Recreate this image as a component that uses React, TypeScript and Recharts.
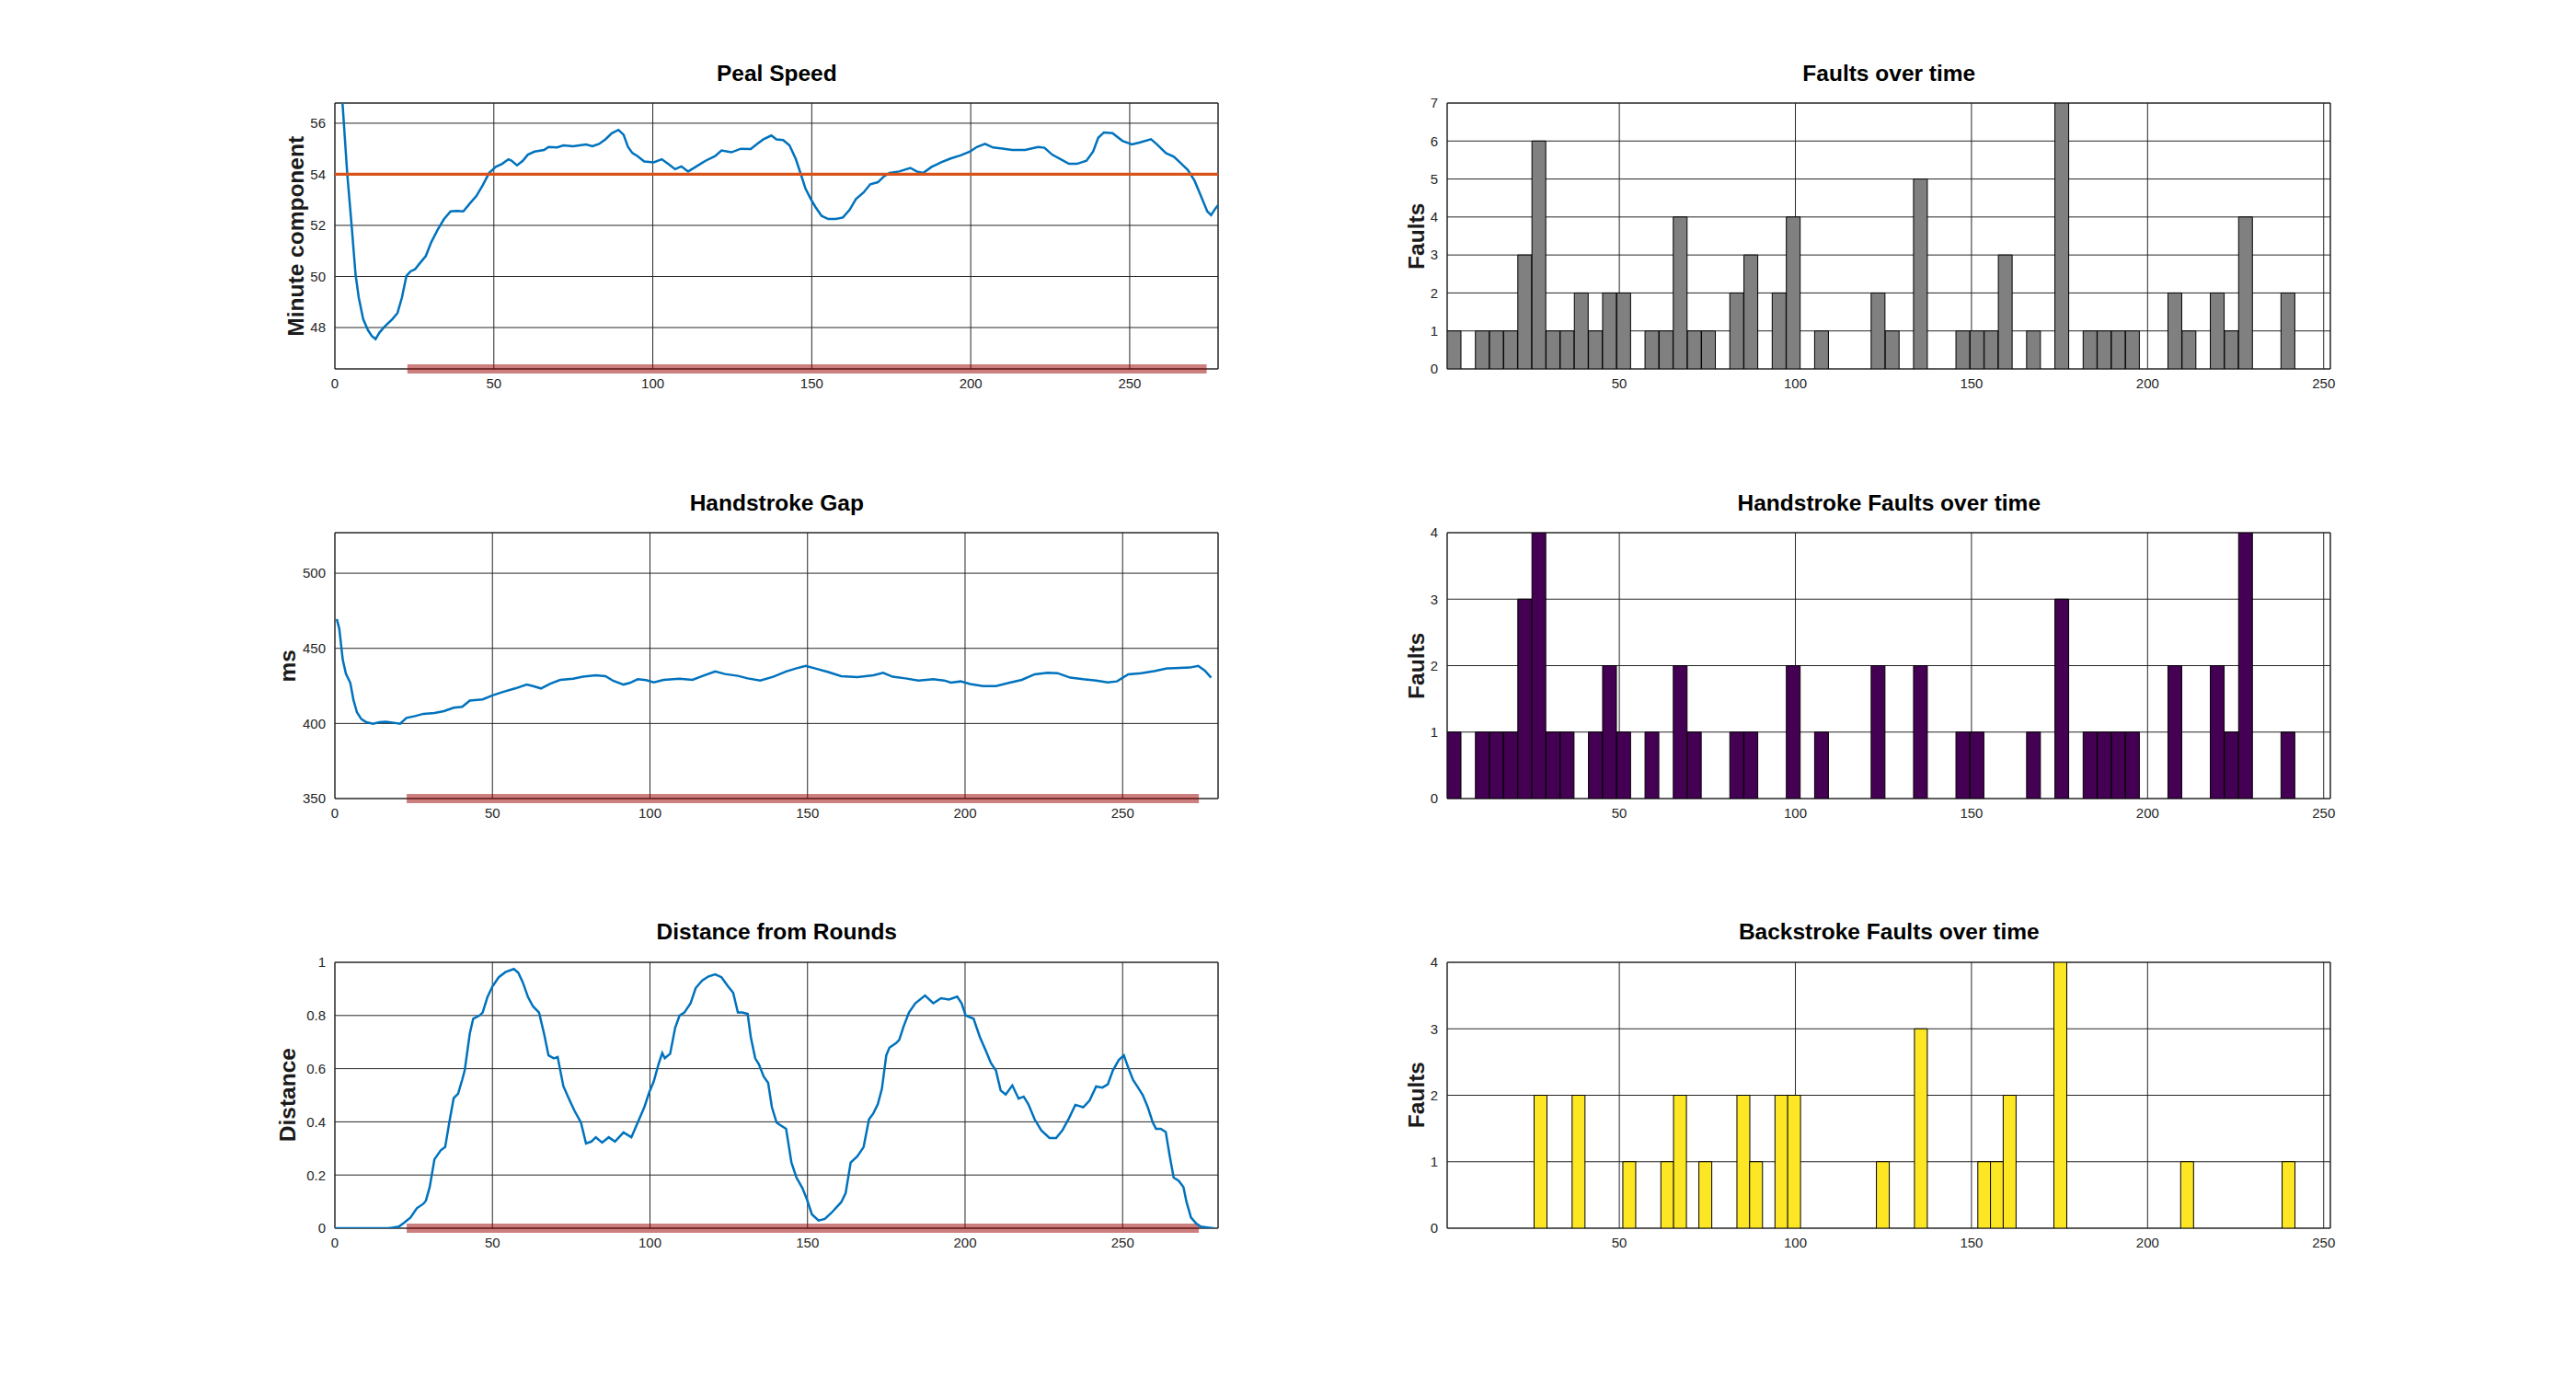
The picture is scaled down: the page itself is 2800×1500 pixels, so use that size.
import React from 'react';
import {
  ComposedChart,
  Line,
  Bar,
  XAxis,
  YAxis,
  CartesianGrid,
  ReferenceLine,
  ReferenceArea,
} from 'recharts';

// ---------- data ----------
const LEFT_X_TICKS = [0, 50, 100, 150, 200, 250];
const RIGHT_X_TICKS = [50, 100, 150, 200, 250];

const PEAL_Y_TICKS = [48, 50, 52, 54, 56];
const GAP_Y_TICKS = [350, 400, 450, 500];
const DIST_Y_TICKS = [0, 0.2, 0.4, 0.6, 0.8, 1];
const FAULT_Y_TICKS = [0, 1, 2, 3, 4, 5, 6, 7];
const HAND_Y_TICKS = [0, 1, 2, 3, 4];
const BACK_Y_TICKS = [0, 1, 2, 3, 4];

const PEAL_TARGET = 54;
const TOUCH_RANGE = [22.8, 274.2];

// [change, value]
const PEAL_SPEED: [number, number][] = [
  [2.4, 56.79], [3.9, 54.0], [5.3, 51.95], [6.5, 50.08], [7.5, 49.18], [8.9, 48.33], [10.4, 47.9],
  [11.6, 47.67], [12.8, 47.55], [14, 47.8], [15.6, 48.03], [18.1, 48.33], [19.7, 48.57], [21.1, 49.18],
  [22.5, 50.02], [23.8, 50.2], [25.2, 50.28], [26.6, 50.5], [28.6, 50.8], [30.3, 51.34], [32.3, 51.82],
  [34.3, 52.24], [36.4, 52.55], [38.4, 52.57], [40.4, 52.55], [42.4, 52.85], [44.5, 53.15], [46.5, 53.57],
  [48.5, 54.05], [50.6, 54.29], [52.6, 54.41], [54.6, 54.59], [55.6, 54.53], [57.3, 54.35], [59.1, 54.53],
  [60.7, 54.77], [62.8, 54.89], [65.8, 54.95], [67.2, 55.07], [69.9, 55.05], [71.9, 55.13], [74.9, 55.1],
  [79, 55.17], [81, 55.1], [83.1, 55.19], [85.1, 55.37], [87.1, 55.61], [89.2, 55.74], [90.8, 55.55],
  [92.2, 55.07], [93.6, 54.83], [95.2, 54.71], [97.3, 54.5], [100.3, 54.47], [102.8, 54.59], [104.8, 54.41],
  [107, 54.2], [109, 54.31], [111.1, 54.11], [113.5, 54.29], [116.6, 54.53], [119.6, 54.71], [121.6, 54.93],
  [124.7, 54.86], [127.7, 55.0], [130.8, 54.99], [132.8, 55.19], [134.8, 55.37], [137.3, 55.52], [138.9, 55.37],
  [141, 55.34], [143, 55.13], [145, 54.59], [146.6, 53.99], [148, 53.45], [149.7, 53.03], [151.1, 52.73],
  [153.1, 52.37], [155.2, 52.25], [157.6, 52.25], [159.8, 52.31], [161.9, 52.61], [163.9, 53.03], [166.3, 53.29],
  [168.4, 53.61], [170.8, 53.69], [172.8, 53.93], [174.5, 54.05], [177.5, 54.11], [181, 54.25], [183, 54.11],
  [185, 54.05], [187.7, 54.29], [190.7, 54.47], [193.7, 54.62], [196.8, 54.74], [199.8, 54.89], [201.9, 55.07],
  [204.5, 55.19], [207, 55.05], [210, 55.01], [213, 54.95], [217.1, 54.95], [221.2, 55.07], [223.2, 55.04],
  [225.6, 54.77], [228.3, 54.59], [230.9, 54.41], [233.4, 54.41], [236.4, 54.53], [238.5, 54.89], [240.1, 55.43],
  [241.9, 55.64], [244.6, 55.61], [247.7, 55.31], [250.7, 55.17], [253.3, 55.25], [256.7, 55.37], [258.4, 55.19],
  [261.4, 54.83], [263.9, 54.69], [266.3, 54.41], [268.3, 54.17], [270.4, 53.75], [272.4, 53.15], [274.4, 52.55],
  [275.6, 52.4], [277, 52.67], [277.8, 52.79],
];

const HANDSTROKE_GAP: [number, number][] = [
  [0.6, 469.5], [1.4, 463], [2.5, 442.4], [3.5, 433.1], [4.9, 427], [5.9, 415.6], [7, 407.4], [8.4, 402.9],
  [10, 400.8], [12.1, 399.8], [14.1, 400.8], [16.2, 401.2], [18.2, 400.6], [20.7, 399.8], [22.7, 403.7],
  [25.4, 404.9], [28.1, 406.4], [31.6, 407], [34.6, 408.2], [37.7, 410.5], [40.4, 411.1], [42.8, 415.2],
  [46.9, 416], [50, 418.7], [53.1, 420.8], [57.2, 423.3], [60.9, 425.9], [62.9, 424.9], [65.4, 423.3],
  [68.4, 426.5], [71.5, 429], [75.6, 429.8], [78.7, 431.1], [82.8, 432.1], [85.9, 431.5], [88.3, 428.4],
  [91.6, 425.9], [93.6, 427], [96.1, 429.4], [98.8, 428.8], [101.2, 427.4], [104.3, 429], [109.4, 429.8],
  [113.5, 429], [116.6, 431.5], [120.7, 434.6], [123.8, 432.9], [127.9, 431.7], [131, 430], [135, 428.6],
  [139.1, 431.1], [143.2, 434.6], [146.3, 436.6], [149.4, 438.3], [152.5, 436.6], [156.6, 434.2], [160.7, 431.5],
  [165.8, 430.9], [170.9, 432.1], [174, 433.7], [177, 431.1], [181.1, 430], [185.2, 428.6], [190, 429.4],
  [193.4, 428.6], [195.5, 427.2], [198.6, 428], [201.6, 426.3], [205.7, 424.9], [209.8, 424.9], [213.9, 427],
  [218, 429], [222.1, 432.7], [226.2, 433.7], [229.3, 433.5], [233.4, 430.5], [237.5, 429.4], [241.6, 428.6],
  [245.3, 427.4], [248.2, 428], [251.8, 432.7], [255.9, 433.5], [260, 434.8], [264.1, 436.6], [268.2, 437],
  [271.3, 437.2], [274, 438.3], [276.1, 435.2], [278.1, 430.5],
];

const DISTANCE: [number, number][] = [
  [0, 0], [17, 0], [18.2, 0.002], [20.3, 0.006], [21.9, 0.02], [24, 0.04], [26, 0.075], [28.1, 0.092],
  [28.9, 0.104], [30.1, 0.155], [31.6, 0.259], [33.6, 0.293], [35, 0.305], [36.3, 0.397], [37.7, 0.489],
  [39.1, 0.506], [40.4, 0.558], [41.2, 0.593], [42.8, 0.731], [43.9, 0.788], [45.9, 0.8], [46.9, 0.811],
  [48.4, 0.869], [50, 0.909], [52, 0.944], [54.1, 0.963], [56.8, 0.975], [58.2, 0.961], [59.6, 0.926],
  [61.3, 0.869], [62.9, 0.834], [64.8, 0.811], [66.4, 0.731], [67.8, 0.65], [69.5, 0.639], [70.7, 0.644],
  [72.5, 0.535], [74.2, 0.489], [76, 0.443], [78.1, 0.397], [79.7, 0.319], [81.4, 0.326], [82.8, 0.342],
  [84.8, 0.322], [86.9, 0.342], [88.9, 0.326], [91.6, 0.36], [94.1, 0.342], [96.1, 0.397], [98.2, 0.455],
  [99.8, 0.512], [101.2, 0.552], [102.7, 0.616], [103.9, 0.659], [104.7, 0.639], [106.4, 0.656], [108, 0.754],
  [109.4, 0.8], [110.9, 0.811], [112.9, 0.846], [114.5, 0.903], [116.6, 0.932], [118.6, 0.947], [120.7, 0.955],
  [122.7, 0.944], [124.8, 0.909], [126.4, 0.886], [127.9, 0.811], [129.3, 0.811], [131, 0.806], [132, 0.719],
  [133.4, 0.639], [134.6, 0.616], [136.1, 0.57], [137.5, 0.547], [138.7, 0.455], [140.2, 0.397], [141.6, 0.386],
  [143.2, 0.374], [144.9, 0.247], [146.5, 0.19], [148.4, 0.15], [149.8, 0.109], [151.4, 0.052], [153.5, 0.029],
  [155.5, 0.035], [157.6, 0.058], [160.7, 0.098], [162.1, 0.132], [163.7, 0.247], [165.8, 0.27], [167.8, 0.305],
  [169.5, 0.409], [170.9, 0.432], [172.3, 0.466], [173.6, 0.524], [175, 0.65], [176, 0.679], [178.1, 0.696],
  [179.1, 0.708], [180.5, 0.759], [182.2, 0.811], [184.2, 0.846], [187.3, 0.875], [189.9, 0.846], [192.4, 0.865],
  [194.9, 0.86], [197.5, 0.871], [198.9, 0.846], [200.2, 0.8], [202.7, 0.788], [204.7, 0.719], [206.8, 0.662],
  [208.2, 0.621], [209.8, 0.593], [211.3, 0.518], [212.9, 0.503], [215, 0.537], [217, 0.487], [218.6, 0.495],
  [220.1, 0.466], [222.1, 0.409], [224.2, 0.368], [226.8, 0.339], [228.9, 0.339], [230.9, 0.368], [233, 0.414],
  [235, 0.464], [237.5, 0.455], [239.5, 0.48], [241.6, 0.533], [243.6, 0.529], [245.3, 0.541], [246.9, 0.593],
  [248.8, 0.633], [250.4, 0.65], [251.8, 0.604], [253.3, 0.558], [254.9, 0.529], [256.4, 0.501], [258, 0.455],
  [259.6, 0.397], [260.6, 0.374], [262.1, 0.374], [263.7, 0.362], [264.8, 0.282], [266.2, 0.19], [267.8, 0.178],
  [269.3, 0.155], [270.3, 0.098], [271.7, 0.04], [273.4, 0.017], [274.8, 0.006], [277.5, 0.002], [278.9, 0],
];

// histogram bins (counts per bin)
const FAULT_BIN_START = 1.12;
const FAULT_BIN_WIDTH = 4.013;
const FAULT_COUNTS = [
  1, 0, 1, 1, 1, 3, 6, 1, 1, 2,
  1, 2, 2, 0, 1, 1, 4, 1, 1, 0,
  2, 3, 0, 2, 4, 0, 1, 0, 0, 0,
  2, 1, 0, 5, 0, 0, 1, 1, 1, 3,
  0, 1, 0, 7, 0, 1, 1, 1, 1, 0,
  0, 2, 1, 0, 2, 1, 4, 0, 0, 2,
];
const HAND_COUNTS = [
  1, 0, 1, 1, 1, 3, 4, 1, 1, 0,
  1, 2, 1, 0, 1, 0, 2, 1, 0, 0,
  1, 1, 0, 0, 2, 0, 1, 0, 0, 0,
  2, 0, 0, 2, 0, 0, 1, 1, 0, 0,
  0, 1, 0, 3, 0, 1, 1, 1, 1, 0,
  0, 2, 0, 0, 2, 1, 4, 0, 0, 1,
];
const BACK_BIN_START = 25.8;
const BACK_BIN_WIDTH = 3.6;
const BACK_COUNTS = [
  2, 0, 0, 2, 0, 0, 0, 1, 0, 0,
  1, 2, 0, 1, 0, 0, 2, 1, 0, 2,
  2, 0, 0, 0, 0, 0, 0, 1, 0, 0,
  3, 0, 0, 0, 0, 1, 1, 2, 0, 0,
  0, 4, 0, 0, 0, 0, 0, 0, 0, 0,
  0, 1, 0, 0, 0, 0, 0, 0, 0, 1,
];

// ---------- layout ----------
const PLOT_W = 960;
const PLOT_H = 289;
const COL_LEFT = [364.3, 1573.3];
const ROW_TOP = [112.3, 579.3, 1045.6];
const ML = 100;
const MR = 40;
const MT = 30;
const MB = 50;
const YW = 60;
const XH = 40;

const FONT = '"Liberation Sans", Arial, Helvetica, sans-serif';
const AXIS_COLOR = '#262626';
const BLUE = '#0072BD';
const ORANGE = '#D95319';

const toLine = (pts: [number, number][]) => pts.map(([x, v]) => ({ x, v }));
const toBins = (counts: number[], start: number, width: number) =>
  counts.map((c, i) => ({ x: start + width * (i + 0.5), c }));

type PanelProps = {
  left: number;
  top: number;
  data: any[];
  xDomain: [number, number];
  xTicks: number[];
  yDomain: [number, number];
  yTicks: number[];
  children: React.ReactNode;
};

function Panel({ left, top, data, xDomain, xTicks, yDomain, yTicks, children }: PanelProps) {
  const tickStyle = { fontSize: 15, fill: AXIS_COLOR, fontFamily: FONT };
  return (
    <div style={{ position: 'absolute', left: left - ML, top: top - MT }}>
      <ComposedChart
        width={PLOT_W + ML + MR}
        height={PLOT_H + MT + MB}
        data={data}
        margin={{ top: MT, right: MR, left: ML - YW, bottom: MB - XH }}
        barCategoryGap={0}
        barGap={0}
      >
        <CartesianGrid stroke={AXIS_COLOR} strokeWidth={1} />
        <XAxis
          type="number"
          dataKey="x"
          domain={xDomain}
          ticks={xTicks}
          interval={0}
          allowDataOverflow
          axisLine={false}
          tickLine={false}
          tickSize={0}
          tickMargin={10}
          height={XH}
          tick={tickStyle}
        />
        <YAxis
          type="number"
          domain={yDomain}
          ticks={yTicks}
          interval={0}
          allowDataOverflow
          axisLine={false}
          tickLine={false}
          tickSize={0}
          tickMargin={10}
          width={YW}
          tick={tickStyle}
        />
        {children}
        <ReferenceArea
          x1={xDomain[0]}
          x2={xDomain[1]}
          y1={yDomain[0]}
          y2={yDomain[1]}
          fill="none"
          fillOpacity={0}
          stroke={AXIS_COLOR}
          strokeWidth={1}
          ifOverflow="visible"
        />
      </ComposedChart>
    </div>
  );
}

const band = (y: number) => (
  <ReferenceLine
    segment={[
      { x: TOUCH_RANGE[0], y },
      { x: TOUCH_RANGE[1], y },
    ]}
    stroke="#990000"
    strokeOpacity={0.5}
    strokeWidth={10}
    ifOverflow="visible"
  />
);

const PEAL_X: [number, number] = [0, 277.8];
const PEAL_Y: [number, number] = [46.38, 56.79];
const GAP_X: [number, number] = [0, 280.3];
const GAP_Y: [number, number] = [350, 527];
const DIST_X: [number, number] = [0, 280.3];
const DIST_Y: [number, number] = [0, 1];
const FAULT_X: [number, number] = [1.12, 251.9];

const TITLES = [
  { text: 'Peal Speed', col: 0, row: 0 },
  { text: 'Faults over time', col: 1, row: 0 },
  { text: 'Handstroke Gap', col: 0, row: 1 },
  { text: 'Handstroke Faults over time', col: 1, row: 1 },
  { text: 'Distance from Rounds', col: 0, row: 2 },
  { text: 'Backstroke Faults over time', col: 1, row: 2 },
];
const YLABELS = [
  { text: 'Minute component', col: 0, row: 0, bx: 329.5 },
  { text: 'Faults', col: 1, row: 0, bx: 1548 },
  { text: 'ms', col: 0, row: 1, bx: 321 },
  { text: 'Faults', col: 1, row: 1, bx: 1548 },
  { text: 'Distance', col: 0, row: 2, bx: 321 },
  { text: 'Faults', col: 1, row: 2, bx: 1548 },
];

export default function App() {
  return (
    <div
      style={{
        position: 'fixed',
        left: 0,
        top: 0,
        width: 2800,
        height: 1500,
        background: '#ffffff',
        overflow: 'hidden',
      }}
    >
      {/* Peal Speed */}
      <Panel left={COL_LEFT[0]} top={ROW_TOP[0]} data={toLine(PEAL_SPEED)} xDomain={PEAL_X} xTicks={LEFT_X_TICKS} yDomain={PEAL_Y} yTicks={PEAL_Y_TICKS}>
        {band(PEAL_Y[0])}
        <Line type="linear" dataKey="v" stroke={BLUE} strokeWidth={2.5} dot={false} isAnimationActive={false} />
        <ReferenceLine y={PEAL_TARGET} stroke={ORANGE} strokeWidth={3.3} />
      </Panel>

      {/* Handstroke Gap */}
      <Panel left={COL_LEFT[0]} top={ROW_TOP[1]} data={toLine(HANDSTROKE_GAP)} xDomain={GAP_X} xTicks={LEFT_X_TICKS} yDomain={GAP_Y} yTicks={GAP_Y_TICKS}>
        {band(GAP_Y[0])}
        <Line type="linear" dataKey="v" stroke={BLUE} strokeWidth={2.5} dot={false} isAnimationActive={false} />
      </Panel>

      {/* Distance from Rounds */}
      <Panel left={COL_LEFT[0]} top={ROW_TOP[2]} data={toLine(DISTANCE)} xDomain={DIST_X} xTicks={LEFT_X_TICKS} yDomain={DIST_Y} yTicks={DIST_Y_TICKS}>
        {band(DIST_Y[0])}
        <Line type="linear" dataKey="v" stroke={BLUE} strokeWidth={2.5} dot={false} isAnimationActive={false} />
      </Panel>

      {/* Faults over time */}
      <Panel left={COL_LEFT[1]} top={ROW_TOP[0]} data={toBins(FAULT_COUNTS, FAULT_BIN_START, FAULT_BIN_WIDTH)} xDomain={FAULT_X} xTicks={RIGHT_X_TICKS} yDomain={[0, 7]} yTicks={FAULT_Y_TICKS}>
        <Bar dataKey="c" fill="#808080" stroke="#000000" strokeWidth={1} isAnimationActive={false} />
      </Panel>

      {/* Handstroke faults */}
      <Panel left={COL_LEFT[1]} top={ROW_TOP[1]} data={toBins(HAND_COUNTS, FAULT_BIN_START, FAULT_BIN_WIDTH)} xDomain={FAULT_X} xTicks={RIGHT_X_TICKS} yDomain={[0, 4]} yTicks={HAND_Y_TICKS}>
        <Bar dataKey="c" fill="#440154" stroke="#000000" strokeWidth={1} isAnimationActive={false} />
      </Panel>

      {/* Backstroke faults */}
      <Panel left={COL_LEFT[1]} top={ROW_TOP[2]} data={toBins(BACK_COUNTS, BACK_BIN_START, BACK_BIN_WIDTH)} xDomain={FAULT_X} xTicks={RIGHT_X_TICKS} yDomain={[0, 4]} yTicks={BACK_Y_TICKS}>
        <Bar dataKey="c" fill="#FDE725" stroke="#000000" strokeWidth={1} isAnimationActive={false} />
      </Panel>

      <svg
        width={2800}
        height={1500}
        style={{ position: 'absolute', left: 0, top: 0, pointerEvents: 'none' }}
      >
        {TITLES.map((t) => (
          <text
            key={t.text}
            x={COL_LEFT[t.col] + PLOT_W / 2}
            y={ROW_TOP[t.row] - 24.6}
            textAnchor="middle"
            fontFamily={FONT}
            fontWeight="bold"
            fontSize={24.5}
            fill="#000000"
          >
            {t.text}
          </text>
        ))}
        {YLABELS.map((l, i) => (
          <text
            key={i}
            transform={`translate(${l.bx}, ${ROW_TOP[l.row] + PLOT_H / 2}) rotate(-90)`}
            textAnchor="middle"
            fontFamily={FONT}
            fontWeight="bold"
            fontSize={24.5}
            fill="#1a1a1a"
          >
            {l.text}
          </text>
        ))}
      </svg>
    </div>
  );
}
